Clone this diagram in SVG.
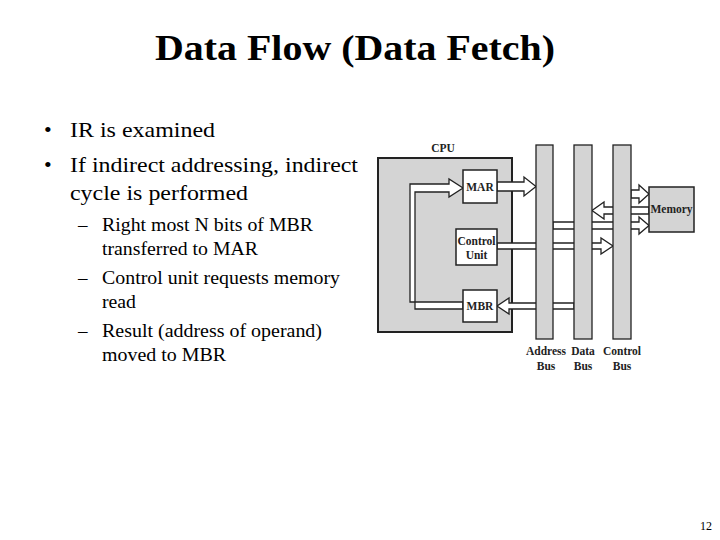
<svg xmlns="http://www.w3.org/2000/svg" width="720" height="540" viewBox="0 0 720 540">
<style>
.t{font-family:"Liberation Serif",serif;fill:#000}
.b{font-family:"Liberation Serif",serif;font-weight:bold;font-size:11.5px;fill:#222;text-anchor:middle}
.box{fill:#fff;stroke:#222;stroke-width:1.5}
.bus{fill:#d4d4d4;stroke:#222;stroke-width:1.3}
.ar{fill:#fff;stroke:#222;stroke-width:1.3;stroke-linejoin:miter}
</style>
<rect width="720" height="540" fill="#fff"/>
<text class="t" x="155" y="60" font-size="36" font-weight="bold" textLength="400" lengthAdjust="spacingAndGlyphs">Data Flow (Data Fetch)</text>
<g class="t" font-size="22">
<text x="44" y="137">•</text><text x="70" y="137" textLength="145" lengthAdjust="spacingAndGlyphs">IR is examined</text>
<text x="44" y="172">•</text><text x="70" y="172" textLength="288" lengthAdjust="spacingAndGlyphs">If indirect addressing, indirect</text>
<text x="70" y="200" textLength="178" lengthAdjust="spacingAndGlyphs">cycle is performed</text>
</g>
<g class="t" font-size="19">
<text x="78" y="231">–</text><text x="102" y="231" textLength="211" lengthAdjust="spacingAndGlyphs">Right most N bits of MBR</text>
<text x="102" y="255" textLength="156" lengthAdjust="spacingAndGlyphs">transferred to MAR</text>
<text x="78" y="284">–</text><text x="102" y="284" textLength="238" lengthAdjust="spacingAndGlyphs">Control unit requests memory</text>
<text x="102" y="308" textLength="34" lengthAdjust="spacingAndGlyphs">read</text>
<text x="78" y="337">–</text><text x="102" y="337" textLength="220" lengthAdjust="spacingAndGlyphs">Result (address of operand)</text>
<text x="102" y="361" textLength="124" lengthAdjust="spacingAndGlyphs">moved to MBR</text>
</g>
<text class="t" x="712" y="530" font-size="12" text-anchor="end">12</text>
<g id="cpu"><rect x="378" y="158" width="134" height="174" fill="#d4d4d4" stroke="#222" stroke-width="2"/>
<text class="b" x="443" y="152">CPU</text></g>
<g id="connectors">
<polygon class="ar" points="463,302 410,302 410,184 449,184 449,179 463,188 449,197 449,192 415,192 415,309 463,309"/>
<polygon class="ar" points="497,182 524,182 524,177 536,186.5 524,196 524,191 497,191"/>
<polygon class="ar" points="497,243 601,243 601,238 613,246 601,254 601,249 497,249"/>
<polygon class="ar" points="574,303 509,303 509,298 497,306 509,314 509,309 574,309"/>
<polygon class="ar" points="631,190 639,190 639,185 649,194 639,203 639,198 631,198"/>
<polygon class="ar" points="649,207 604,207 604,202 592,210.5 604,219 604,214 649,214"/>
<polygon class="ar" points="553,222 639,222 639,217 649,225.5 639,234 639,229 553,229"/>
</g>
<g id="address-bus"><rect class="bus" x="536" y="145" width="17" height="194"/><text class="b" x="546" y="355">Address</text><text class="b" x="546" y="370">Bus</text></g>
<g id="data-bus"><rect class="bus" x="574" y="145" width="18" height="194"/><text class="b" x="583" y="355">Data</text><text class="b" x="583" y="370">Bus</text></g>
<g id="control-bus"><rect class="bus" x="613" y="145" width="18" height="194"/><text class="b" x="622" y="355">Control</text><text class="b" x="622" y="370">Bus</text></g>
<g id="mar"><rect class="box" x="463" y="170" width="34" height="33"/><text class="b" x="480" y="191">MAR</text></g>
<g id="control-unit"><rect class="box" x="456" y="229" width="41" height="36"/><text class="b" x="476.5" y="245">Control</text><text class="b" x="476.5" y="259">Unit</text></g>
<g id="mbr"><rect class="box" x="463" y="290" width="34" height="32"/><text class="b" x="480" y="310">MBR</text></g>
<g id="memory"><rect x="649" y="187" width="45" height="45" fill="#d4d4d4" stroke="#222" stroke-width="1.5"/><text class="b" x="671.5" y="213" font-size="11">Memory</text></g>
</svg>
